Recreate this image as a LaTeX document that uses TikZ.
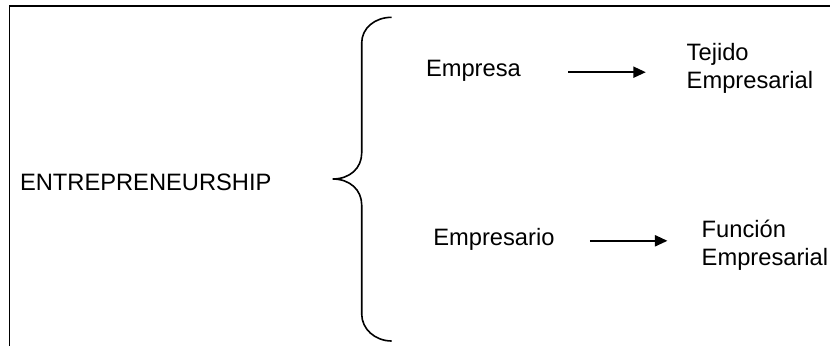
\documentclass[tikz,border=0pt]{standalone}
\usepackage{fontspec}
\setmainfont{Liberation Sans}
\usetikzlibrary{arrows.meta}
\tikzset{
  lbl/.style={inner sep=0pt, outer sep=0pt, anchor=base west, font=\fontsize{23.7}{28}\selectfont},
  lbl2/.style={lbl, align=left},
  arr/.style={line width=2pt, -{Triangle[length=12.5pt,width=11pt]}},
  frameline/.style={line width=1.3pt},
  bracestyle/.style={line width=1.6pt}
}
\begin{document}
\begin{tikzpicture}[x=1pt,y=-1pt]
\useasboundingbox (0,0) rectangle (830,346);
% frame (left and top only)
\draw[frameline] (9.5,346) -- (9.5,6) -- (830,6);
% labels
\node[lbl] (ent) at (20,190) {ENTREPRENEURSHIP};
\node[lbl] (emp) at (426,76.5) {Empresa};
\node[lbl2] (tej) at (686.7,88.3) {Tejido\\Empresarial};
\node[lbl] (epo) at (433.3,245) {Empresario};
\node[lbl2] (fun) at (701.7,265) {Función\\Empresarial};
% brace
\coordinate (btop) at (391.7,17.3);
\coordinate (btip) at (332.7,179);
\coordinate (bbot) at (391.7,341);
\draw[bracestyle] (btop) .. controls (375,17.3) and (361.7,28) .. (361.7,43)
  -- (361.7,153) .. controls (361.7,168) and (350,179) .. (btip)
  .. controls (350,179) and (361.7,190) .. (361.7,205)
  -- (361.7,314) .. controls (361.7,329) and (375,341) .. (bbot);
% arrows
\path (emp.base east) ++(47.5,-4.3) coordinate (a1s);
\path (a1s) ++(77.5,0) coordinate (a1e);
\draw[arr] (a1s) -- (a1e);
\path (epo.base east) ++(35.5,-4.2) coordinate (a2s);
\path (a2s) ++(77.5,0) coordinate (a2e);
\draw[arr] (a2s) -- (a2e);
\end{tikzpicture}
\end{document}
